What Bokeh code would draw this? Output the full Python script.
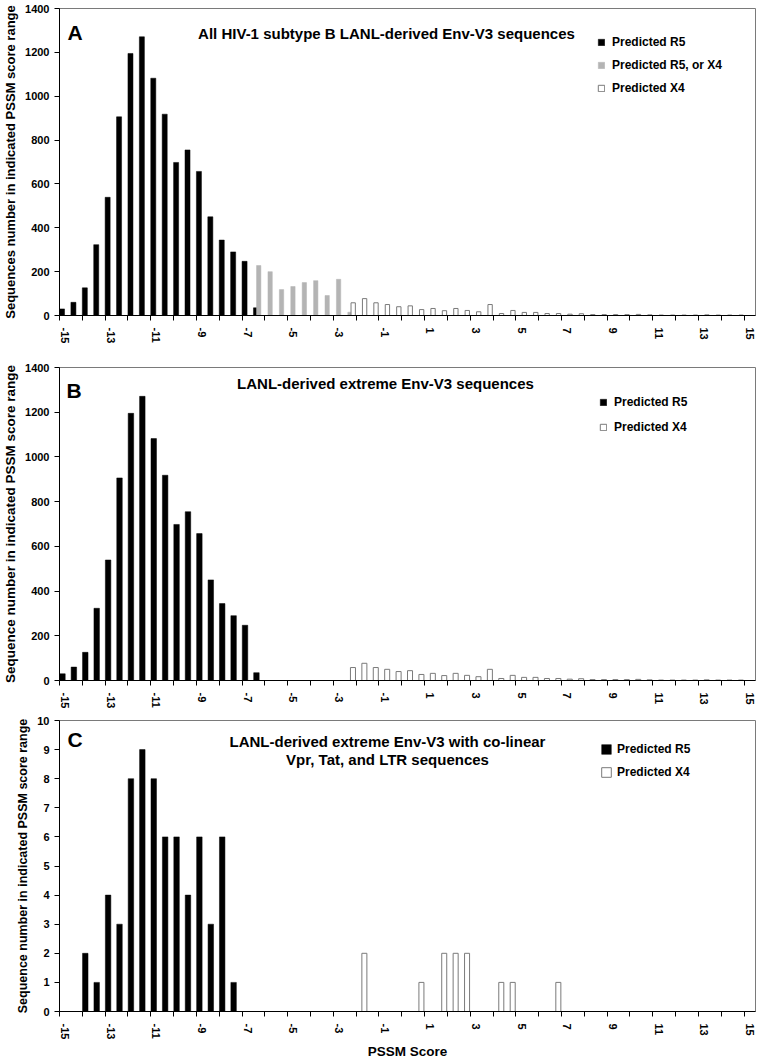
from bokeh.plotting import figure
from bokeh.layouts import column
from bokeh.models import FixedTicker, Label, Legend, LegendItem, Range1d, ColumnDataSource
from bokeh.transform import dodge
from bokeh.embed import file_html
from bokeh.resources import INLINE

FONT = "Liberation Sans"

# ---------------- data ----------------
# Panel A / B : Predicted R5 (black)
r5_score = [-15, -14.5, -14, -13.5, -13, -12.5, -12, -11.5, -11, -10.5,
            -10, -9.5, -9, -8.5, -8, -7.5, -7, -6.5]
r5_count = [30, 60, 126, 323, 539, 906, 1195, 1271, 1082, 918,
            698, 755, 657, 450, 344, 290, 247, 35]
# Panel A : Predicted R5, or X4 (grey)
mid_score = [-6.5, -6, -5.5, -5, -4.5, -4, -3.5, -3, -2.5]
mid_count = [228, 200, 118, 132, 150, 159, 91, 165, 15]
# Panel A / B : Predicted X4 (white)
x4_score = [-2.5, -2, -1.5, -1, -0.5, 0, 0.5, 1, 1.5, 2, 2.5, 3, 3.5, 4, 4.5,
            5, 5.5, 6, 6.5, 7, 7.5, 8, 8.5, 9, 9.5, 10, 10.5, 11, 11.5, 12,
            12.5, 13, 13.5, 14, 14.5]
x4_count = [58, 77, 58, 50, 40, 44, 27, 32, 22, 32, 23, 17, 50, 9, 23,
            14, 14, 9, 9, 6, 8, 4, 4, 4, 4, 5, 3, 2, 2, 2,
            2, 3, 2, 2, 2]
# Panel C
c_r5_score = [-14, -13.5, -13, -12.5, -12, -11.5, -11, -10.5, -10, -9.5, -9, -8.5, -8, -7.5]
c_r5_count = [2, 1, 4, 3, 8, 9, 8, 6, 6, 4, 6, 3, 6, 1]
c_x4_score = [-2, 0.5, 1.5, 2, 2.5, 4, 4.5, 6.5]
c_x4_count = [2, 1, 2, 2, 2, 1, 1, 1]

x_label_pos = [-15, -13, -11, -9, -7, -5, -3, -1, 1, 3, 5, 7, 9, 11, 13, 15]
x_label_txt = ["-15", "-13", "-11", "-9", "-7", "-5", "-3", "-1", "1", "3", "5", "7", "9", "11", "13", "15"]
y_ticks_ab = [0, 200, 400, 600, 800, 1000, 1200, 1400]
y_ticks_c = [0, 1, 2, 3, 4, 5, 6, 7, 8, 9, 10]

x_tick_marks = [-15.25 + k for k in range(31)]


def make_panel(h, bt, bb, ymax, yticks, ylabel, ylabel_size, xlabel=None):
    p = figure(width=760, height=h, x_range=Range1d(-15.25, 15.25), y_range=Range1d(0, ymax),
               output_backend="svg", toolbar_location=None,
               min_border_left=55, min_border_right=5, min_border_top=bt, min_border_bottom=bb)
    p.xgrid.visible = False
    p.ygrid.visible = False
    p.outline_line_color = "#7a7a7a"
    p.outline_line_width = 1
    xa = p.xaxis[0]
    xa.ticker = FixedTicker(ticks=x_label_pos, minor_ticks=x_tick_marks)
    xa.major_label_overrides = {v: t for v, t in zip(x_label_pos, x_label_txt)}
    xa.major_tick_line_color = None
    xa.major_tick_out = 0
    xa.major_tick_in = 0
    xa.minor_tick_out = 5
    xa.minor_tick_in = 0
    xa.minor_tick_line_color = "black"
    xa.major_label_orientation = "vertical"
    xa.major_label_standoff = 7
    xa.major_label_text_font = FONT
    xa.major_label_text_font_size = "11px"
    xa.major_label_text_font_style = "bold"
    xa.major_label_text_color = "black"
    xa.axis_line_color = "black"
    if xlabel:
        xa.axis_label = xlabel
        xa.axis_label_text_font = FONT
        xa.axis_label_text_font_size = "13.5px"
        xa.axis_label_text_font_style = "bold"
        xa.axis_label_standoff = 2
        xa.axis_label_text_color = "black"
    ya = p.yaxis[0]
    ya.ticker = FixedTicker(ticks=yticks)
    ya.minor_tick_line_color = None
    ya.major_tick_out = 5
    ya.major_tick_in = 0
    ya.major_tick_line_color = "black"
    ya.major_label_standoff = 5
    ya.major_label_text_font = FONT
    ya.major_label_text_font_size = "11px"
    ya.major_label_text_font_style = "bold"
    ya.major_label_text_color = "black"
    ya.axis_line_color = "black"
    ya.axis_label = ylabel
    ya.axis_label_text_font = FONT
    ya.axis_label_text_font_size = ylabel_size
    ya.axis_label_text_font_style = "bold"
    ya.axis_label_standoff = 4
    ya.axis_label_text_color = "black"
    return p


def add_text(p, x, y, text, size, align="center", baseline="middle"):
    p.add_layout(Label(x=x, y=y, x_units="screen", y_units="screen", text=text,
                       text_align=align, text_baseline=baseline, text_font=FONT,
                       text_font_size=size, text_font_style="bold", text_color="black"))


def make_legend(items, loc, gsize, pitch_spacing, standoff):
    return Legend(items=items, location=loc, glyph_width=gsize, glyph_height=gsize,
                  label_height=18, spacing=pitch_spacing, padding=0, margin=0,
                  border_line_color=None, background_fill_alpha=0,
                  label_text_font=FONT, label_text_font_size="12px",
                  label_text_font_style="bold", label_text_color="black",
                  label_standoff=standoff)


# ---------------- Panel A (frame 307 tall) ----------------
pA = make_panel(352, 8, 37, 1400, y_ticks_ab,
                "Sequences number in indicated PSSM score range", "13px")
sA1 = ColumnDataSource(dict(x=r5_score, top=r5_count))
sA2 = ColumnDataSource(dict(x=mid_score, top=mid_count))
sA3 = ColumnDataSource(dict(x=x4_score, top=x4_count))
rA1 = pA.vbar(x=dodge("x", -0.14, range=pA.x_range), top="top", bottom=0, width=0.22,
              source=sA1, fill_color="black", line_color="black", line_width=0.5)
rA2 = pA.vbar(x=dodge("x", -0.02, range=pA.x_range), top="top", bottom=0, width=0.19,
              source=sA2, fill_color="#b4b4b4", line_color="#b4b4b4", line_width=0.5)
rA3 = pA.vbar(x=dodge("x", 0.12, range=pA.x_range), top="top", bottom=0, width=0.19,
              source=sA3, fill_color="white", line_color="#7a7a7a", line_width=1)
pA.add_layout(make_legend([LegendItem(label="Predicted R5", renderers=[rA1]),
                           LegendItem(label="Predicted R5, or X4", renderers=[rA2]),
                           LegendItem(label="Predicted X4", renderers=[rA3])],
                          (538, 218), 8, 5, 7))
add_text(pA, 327, 282, "All HIV-1 subtype B LANL-derived Env-V3 sequences", "15px")
add_text(pA, 8, 283, "A", "21px", align="left", baseline="alphabetic")

# ---------------- Panel B (frame 313 tall) ----------------
pB = make_panel(362, 15, 34, 1400, y_ticks_ab,
                "Sequence number in indicated PSSM score range", "13.5px")
sB1 = ColumnDataSource(dict(x=r5_score, top=r5_count))
sB2 = ColumnDataSource(dict(x=x4_score, top=x4_count))
rB1 = pB.vbar(x=dodge("x", -0.12, range=pB.x_range), top="top", bottom=0, width=0.24,
              source=sB1, fill_color="black", line_color="black", line_width=0.5)
rB2 = pB.vbar(x=dodge("x", 0.11, range=pB.x_range), top="top", bottom=0, width=0.22,
              source=sB2, fill_color="white", line_color="#7a7a7a", line_width=1)
pB.add_layout(make_legend([LegendItem(label="Predicted R5", renderers=[rB1]),
                           LegendItem(label="Predicted X4", renderers=[rB2])],
                          (540, 244), 8, 7, 7))
add_text(pB, 326, 297, "LANL-derived extreme Env-V3 sequences", "15px")
add_text(pB, 7, 290, "B", "21px", align="left", baseline="alphabetic")

# ---------------- Panel C (frame ~292 tall) ----------------
pC = make_panel(348, 6, 44, 10, y_ticks_c,
                "Sequence number in indicated PSSM score range", "12.5px",
                xlabel="PSSM Score")
sC1 = ColumnDataSource(dict(x=c_r5_score, top=c_r5_count))
sC2 = ColumnDataSource(dict(x=c_x4_score, top=c_x4_count))
rC1 = pC.vbar(x=dodge("x", -0.12, range=pC.x_range), top="top", bottom=0, width=0.24,
              source=sC1, fill_color="black", line_color="black", line_width=0.5)
rC2 = pC.vbar(x=dodge("x", 0.11, range=pC.x_range), top="top", bottom=0, width=0.22,
              source=sC2, fill_color="white", line_color="#7a7a7a", line_width=1)
pC.add_layout(make_legend([LegendItem(label="Predicted R5", renderers=[rC1]),
                           LegendItem(label="Predicted X4", renderers=[rC2])],
                          (541, 230), 12, 5, 5))
add_text(pC, 328, 270, "LANL-derived extreme Env-V3 with co-linear", "15px")
add_text(pC, 328, 252, "Vpr, Tat, and LTR sequences", "15px")
add_text(pC, 8, 272, "C", "21px", align="left", baseline="alphabetic")

layout = column(pA, pB, pC)
open("out.html", "w").write(file_html(layout, INLINE))
